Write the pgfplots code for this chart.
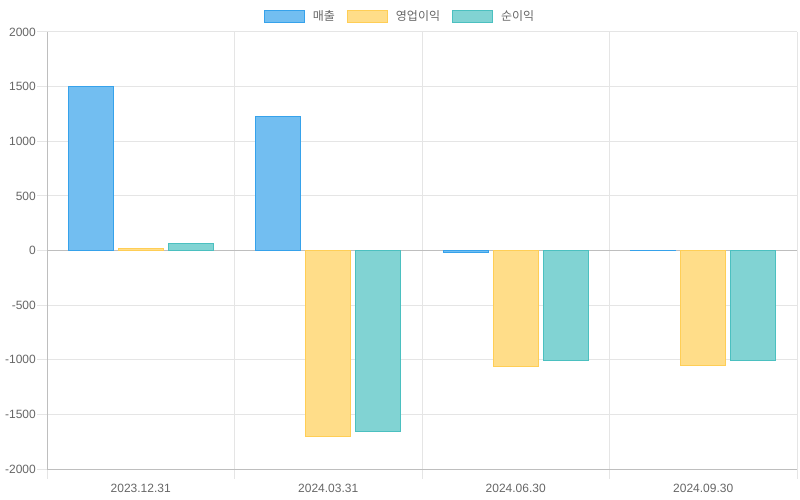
\documentclass[border=0pt]{standalone}
\usepackage{fontspec}
\setmainfont{Liberation Sans}
\newfontfamily\kr{Noto Sans CJK KR}
\usepackage{pgfplots}
\pgfplotsset{compat=1.18}
\definecolor{c1f}{RGB}{114,190,241}
\definecolor{c1b}{RGB}{54,162,235}
\definecolor{c2f}{RGB}{255,221,137}
\definecolor{c2b}{RGB}{255,206,86}
\definecolor{c3f}{RGB}{129,211,211}
\definecolor{c3b}{RGB}{75,192,192}
\definecolor{gridc}{RGB}{229,229,229}
\definecolor{axisc}{RGB}{190,190,190}
\definecolor{tickc}{RGB}{102,102,102}
\begin{document}
\begin{tikzpicture}
\useasboundingbox (0bp,0bp) rectangle (800bp,500bp);
\begin{axis}[
  at={(47bp,31bp)}, anchor=south west,
  scale only axis, width=750bp, height=437bp,
  xmin=-0.5, xmax=3.5, ymin=-2000, ymax=2000,
  enlargelimits=false,
  axis lines*=left,
  axis line style={draw=axisc, line width=1bp, -},
  xtick={0,1,2,3},
  xticklabels={2023.12.31,2024.03.31,2024.06.30,2024.09.30},
  minor xtick={-0.5,0.5,1.5,2.5,3.5},
  xminorgrids=true,
  minor grid style={draw=gridc, line width=1bp},
  major grid style={draw=gridc, line width=1bp},
  ytick={-2000,-1500,-1000,-500,500,1000,1500,2000},
  ymajorgrids=true,
  tick align=outside,
  major tick length=10bp,
  minor tick length=10bp,
  x tick style={draw=none},
  minor x tick style={draw=gridc, line width=1bp},
  y tick style={draw=gridc, line width=1bp},
  extra y ticks={0},
  extra y tick style={major grid style={draw=axisc, line width=1bp}, major tick style={draw=gridc, line width=1bp}},
  /pgf/number format/assume math mode=true,
  /pgf/number format/1000 sep={},
  tick label style={font=\fontsize{12bp}{14bp}\selectfont, text=tickc},
  yticklabel style={inner sep=1bp},
  xticklabel style={yshift=-2bp},
  bar width=0.24,
  ybar,
  legend style={at={(0.4707,1.0366)}, anchor=center, draw=none, fill=none,
    legend columns=3, font=\kr\fontsize{12bp}{14bp}\selectfont, text=tickc,
    /tikz/every odd column/.append style={column sep=6bp},
    /tikz/every even column/.append style={column sep=10bp},
    inner sep=0pt},
  legend image code/.code={\draw[#1, line width=1bp] (0bp,-6bp) rectangle (40bp,6bp);},
]
\addplot[fill=c1f, draw=c1b, line width=1bp, bar shift=-0.2667] coordinates {(0,1505) (1,1231) (2,-15) (3,-3)};
\addlegendentry{매출}
\addplot[fill=c2f, draw=c2b, line width=1bp, bar shift=0] coordinates {(0,20) (1,-1707) (2,-1066) (3,-1057)};
\addlegendentry{영업이익}
\addplot[fill=c3f, draw=c3b, line width=1bp, bar shift=0.2667] coordinates {(0,60) (1,-1661) (2,-1011) (3,-1011)};
\addlegendentry{순이익}
\end{axis}
\end{tikzpicture}
\end{document}
